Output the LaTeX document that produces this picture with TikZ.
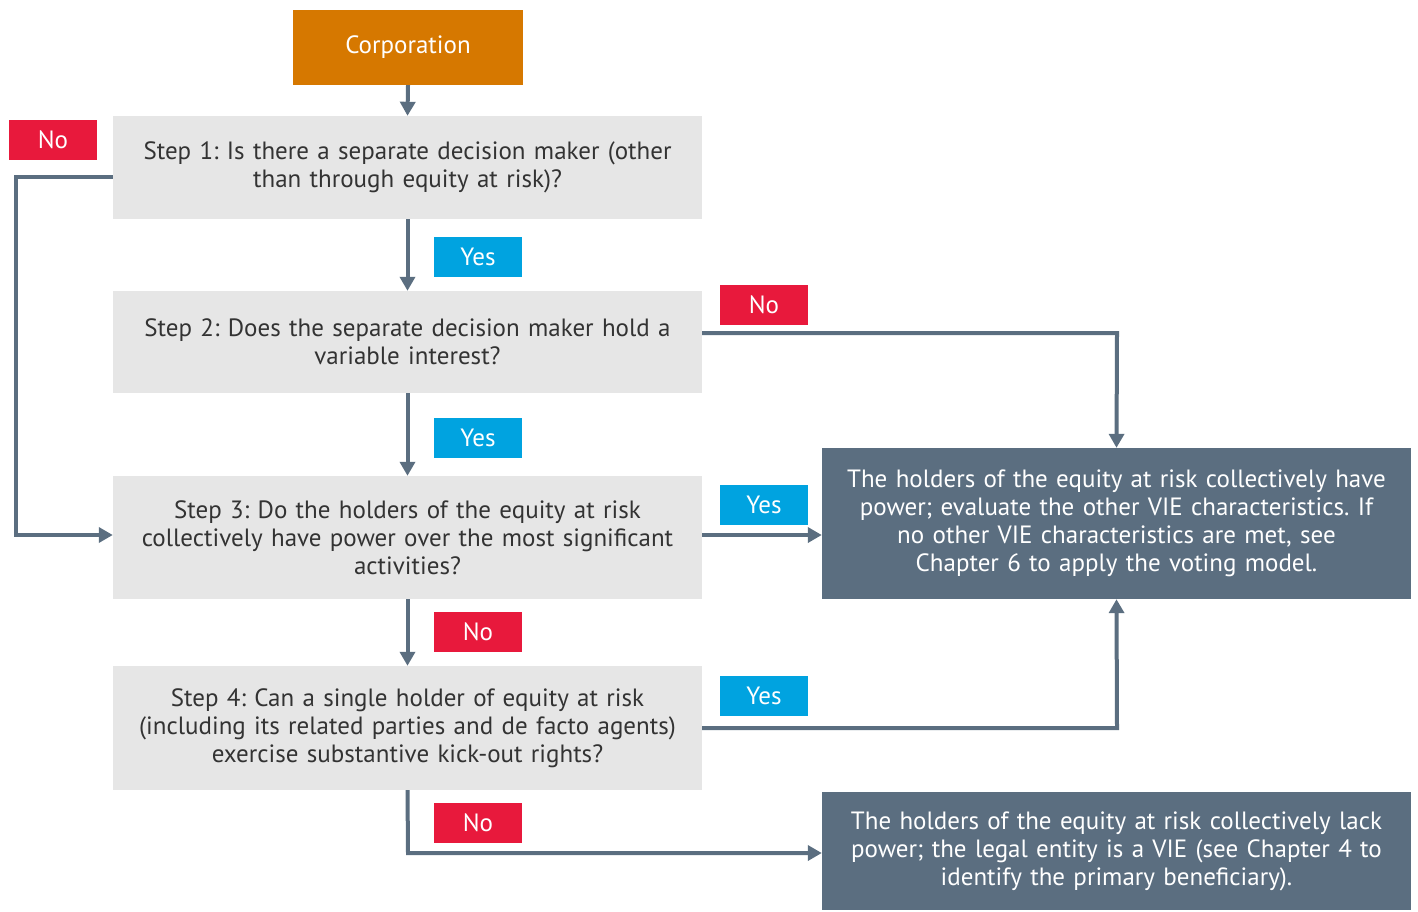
\documentclass[tikz,border=0pt]{standalone}
\usepackage{fontspec}
\setmainfont{PT Sans}
\frenchspacing
\usetikzlibrary{arrows.meta}
\definecolor{corp}{HTML}{D67800}
\definecolor{stepg}{HTML}{E6E6E6}
\definecolor{slate}{HTML}{5B6E80}
\definecolor{nored}{HTML}{E8193C}
\definecolor{yesblue}{HTML}{00A3E0}
\definecolor{txt}{HTML}{333333}
\tikzset{
  box/.style={inner sep=0pt, align=center, font=\fontsize{25}{28}\selectfont\frenchspacing},
  stepbox/.style={box, fill=stepg, text=txt, minimum width=589pt, text width=585pt},
  resbox/.style={box, fill=slate, text=white, minimum width=589pt, text width=585pt},
  tag/.style={box, minimum width=88pt, minimum height=40pt, text=white},
  notag/.style={tag, fill=nored},
  yestag/.style={tag, fill=yesblue},
  conn/.style={draw=slate, line width=4pt, -{Triangle[length=14pt,width=15pt]}}
}
\begin{document}
\begin{tikzpicture}[x=1pt,y=-1pt]
\useasboundingbox (0,0) rectangle (1418,911);
\node[box, fill=corp, text=white, minimum width=230pt, minimum height=75pt] (corp) at (408,47.5) {Corporation};
\node[stepbox, minimum height=103pt] (s1) at (407.5,167.5) {Step 1: Is there a separate decision maker (other\\than through equity at risk)?};
\node[stepbox, minimum height=102pt] (s2) at (407.5,342) {Step 2: Does the separate decision maker hold a\\variable interest?};
\node[stepbox, minimum height=123pt] (s3) at (407.5,537.5) {Step 3: Do the holders of the equity at risk\\collectively have power over the most significant\\activities?};
\node[stepbox, minimum height=124pt] (s4) at (407.5,728) {Step 4: Can a single holder of equity at risk\\(including its related parties and de facto agents)\\exercise substantive kick-out rights?};
\node[resbox, minimum height=151pt] (r1) at (1116.5,523.5) {The holders of the equity at risk collectively have\\power; evaluate the other VIE characteristics. If\\no other VIE characteristics are met, see\\Chapter 6 to apply the voting model.};
\node[resbox, minimum height=118pt] (r2) at (1116.5,851) {The holders of the equity at risk collectively lack\\power; the legal entity is a VIE (see Chapter 4 to\\identify the primary beneficiary).};
\node[notag] (n1) at (53,140) {No};
\node[yestag] (y1) at (478,257) {Yes};
\node[notag] (n2) at (764,305) {No};
\node[yestag] (y2) at (478,438) {Yes};
\node[yestag] (y3) at (764,504.5) {Yes};
\node[notag] (n3) at (478,632) {No};
\node[yestag] (y4) at (764,696) {Yes};
\node[notag] (n4) at (478,823) {No};
\coordinate (c1) at (16,177);
\coordinate (c2) at (16,535);
\coordinate (c3) at (1117,333);
\coordinate (c4) at (1117,728);
\coordinate (c5) at (408,853);
\path[conn] (corp.south) -- (s1.north);
\path[conn] (s1.south) -- (s2.north);
\path[conn] (s2.south) -- (s3.north);
\path[conn] (s3.south) -- (s4.north);
\path[conn] (s1.west |- c1) -- (c1) -- (c2) -- (s3.west |- c2);
\path[conn] (s2.east |- c3) -- (c3) -- (r1.north);
\path[conn] (s3.east |- c2) -- (r1.west |- c2);
\path[conn] (s4.east |- c4) -- (c4) -- (r1.south);
\path[conn] (s4.south) -- (c5) -- (r2.west |- c5);
\end{tikzpicture}
\end{document}
